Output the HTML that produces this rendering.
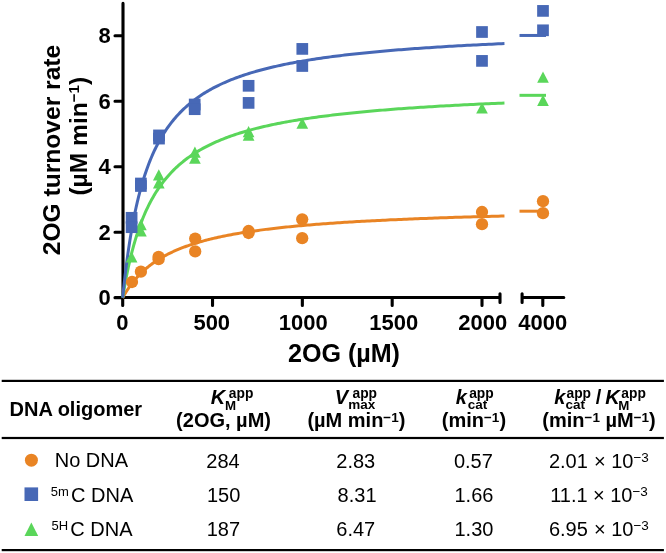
<!DOCTYPE html>
<html><head><meta charset="utf-8"><style>
html,body{margin:0;padding:0;background:#fff;width:666px;height:553px;overflow:hidden}
svg{display:block;will-change:transform}
</style></head><body>
<svg width="666" height="553" viewBox="0 0 666 553">
<path d="M123 3.4 V297.5 M115 297.5 H500 M500 293.8 V302.4 M522.1 293.8 V302.4 M522.1 297.5 H563.8 M115 297.70 H123 M115 232.22 H123 M115 166.74 H123 M115 101.26 H123 M115 35.78 H123 M122.70 297.5 V305.5 M212.53 297.5 V305.5 M302.35 297.5 V305.5 M392.18 297.5 V305.5 M482.00 297.5 V305.5 M542.8 297.5 V305.5" stroke="#000" stroke-width="3.1" stroke-linecap="round" fill="none"/>
<path d="M122.70 297.70 L122.71 297.69 L122.73 297.65 L122.76 297.59 L122.81 297.51 L122.87 297.40 L122.94 297.27 L123.02 297.11 L123.12 296.94 L123.24 296.74 L123.36 296.51 L123.50 296.27 L123.65 296.00 L123.82 295.71 L124.00 295.40 L124.19 295.07 L124.40 294.72 L124.62 294.35 L124.85 293.96 L125.09 293.55 L125.35 293.12 L125.62 292.68 L125.91 292.22 L126.21 291.74 L126.52 291.25 L126.84 290.74 L127.18 290.22 L127.53 289.68 L127.90 289.14 L128.27 288.57 L128.66 288.00 L129.07 287.42 L129.49 286.82 L129.92 286.22 L130.36 285.60 L130.82 284.98 L131.29 284.35 L131.77 283.71 L132.27 283.07 L132.78 282.41 L133.30 281.76 L133.84 281.09 L134.39 280.43 L134.95 279.76 L135.53 279.08 L136.12 278.40 L136.72 277.72 L137.34 277.04 L137.97 276.36 L138.61 275.67 L139.27 274.99 L139.94 274.30 L140.62 273.61 L141.32 272.93 L142.03 272.25 L142.75 271.56 L143.48 270.88 L144.23 270.20 L145.00 269.52 L145.77 268.85 L146.56 268.18 L147.36 267.51 L148.18 266.84 L149.01 266.18 L149.85 265.52 L150.70 264.87 L151.57 264.22 L152.45 263.57 L153.35 262.93 L154.25 262.29 L155.18 261.66 L156.11 261.04 L157.06 260.41 L158.02 259.80 L158.99 259.19 L159.98 258.58 L160.98 257.98 L162.00 257.39 L163.02 256.80 L164.06 256.22 L165.12 255.64 L166.18 255.07 L167.26 254.50 L168.36 253.94 L169.47 253.39 L170.59 252.84 L171.72 252.30 L172.87 251.76 L174.03 251.24 L175.20 250.71 L176.38 250.19 L177.58 249.68 L178.80 249.18 L180.02 248.68 L181.26 248.18 L182.52 247.70 L183.78 247.22 L185.06 246.74 L186.35 246.27 L187.66 245.81 L188.98 245.35 L190.31 244.89 L191.65 244.45 L193.01 244.01 L194.39 243.57 L195.77 243.14 L197.17 242.72 L198.58 242.30 L200.01 241.88 L201.44 241.48 L202.90 241.07 L204.36 240.67 L205.84 240.28 L207.33 239.89 L208.83 239.51 L210.35 239.14 L211.88 238.76 L213.43 238.40 L214.98 238.03 L216.56 237.68 L218.14 237.32 L219.74 236.97 L221.35 236.63 L222.97 236.29 L224.61 235.96 L226.26 235.63 L227.92 235.30 L229.60 234.98 L231.29 234.66 L232.99 234.35 L234.71 234.04 L236.44 233.74 L238.18 233.44 L239.94 233.14 L241.71 232.85 L243.49 232.56 L245.29 232.28 L247.10 231.99 L248.92 231.72 L250.75 231.44 L252.60 231.17 L254.47 230.91 L256.34 230.65 L258.23 230.39 L260.13 230.13 L262.05 229.88 L263.98 229.63 L265.92 229.38 L267.87 229.14 L269.84 228.90 L271.82 228.67 L273.82 228.43 L275.83 228.20 L277.85 227.97 L279.88 227.75 L281.93 227.53 L283.99 227.31 L286.07 227.10 L288.15 226.88 L290.26 226.67 L292.37 226.47 L294.50 226.26 L296.64 226.06 L298.79 225.86 L300.96 225.66 L303.14 225.47 L305.33 225.28 L307.54 225.09 L309.76 224.90 L311.99 224.72 L314.24 224.53 L316.50 224.35 L318.77 224.18 L321.06 224.00 L323.36 223.83 L325.67 223.66 L328.00 223.49 L330.34 223.32 L332.69 223.16 L335.06 222.99 L337.44 222.83 L339.83 222.67 L342.24 222.52 L344.66 222.36 L347.09 222.21 L349.53 222.06 L351.99 221.91 L354.46 221.76 L356.95 221.62 L359.45 221.47 L361.96 221.33 L364.49 221.19 L367.02 221.05 L369.58 220.91 L372.14 220.78 L374.72 220.65 L377.31 220.51 L379.91 220.38 L382.53 220.25 L385.16 220.13 L387.81 220.00 L390.47 219.87 L393.14 219.75 L395.82 219.63 L398.52 219.51 L401.23 219.39 L403.95 219.27 L406.69 219.16 L409.44 219.04 L412.21 218.93 L414.98 218.82 L417.77 218.70 L420.58 218.60 L423.39 218.49 L426.22 218.38 L429.07 218.27 L431.92 218.17 L434.79 218.06 L437.68 217.96 L440.57 217.86 L443.48 217.76 L446.40 217.66 L449.34 217.56 L452.29 217.47 L455.25 217.37 L458.23 217.28 L461.22 217.18 L464.22 217.09 L467.24 217.00 L470.26 216.91 L473.31 216.82 L476.36 216.73 L479.43 216.64 L482.51 216.55 L485.61 216.47 L488.72 216.38 L491.84 216.30 L494.97 216.21 L498.12 216.13 L501.28 216.05 L504.46 215.97" fill="none" stroke="#E98424" stroke-width="3"/>
<path d="M519.5 211.19 L546 211.19" fill="none" stroke="#E98424" stroke-width="3"/>
<path d="M122.70 297.70 L122.71 297.66 L122.73 297.53 L122.76 297.32 L122.81 297.03 L122.87 296.66 L122.94 296.21 L123.02 295.67 L123.12 295.06 L123.24 294.37 L123.36 293.60 L123.50 292.76 L123.65 291.85 L123.82 290.87 L124.00 289.81 L124.19 288.70 L124.40 287.52 L124.62 286.27 L124.85 284.97 L125.09 283.62 L125.35 282.21 L125.62 280.75 L125.91 279.24 L126.21 277.68 L126.52 276.08 L126.84 274.45 L127.18 272.77 L127.53 271.07 L127.90 269.33 L128.27 267.56 L128.66 265.76 L129.07 263.94 L129.49 262.10 L129.92 260.24 L130.36 258.36 L130.82 256.47 L131.29 254.57 L131.77 252.65 L132.27 250.73 L132.78 248.81 L133.30 246.88 L133.84 244.95 L134.39 243.01 L134.95 241.08 L135.53 239.15 L136.12 237.23 L136.72 235.31 L137.34 233.40 L137.97 231.50 L138.61 229.61 L139.27 227.73 L139.94 225.86 L140.62 224.01 L141.32 222.17 L142.03 220.34 L142.75 218.53 L143.48 216.74 L144.23 214.96 L145.00 213.20 L145.77 211.46 L146.56 209.73 L147.36 208.03 L148.18 206.34 L149.01 204.67 L149.85 203.03 L150.70 201.40 L151.57 199.80 L152.45 198.21 L153.35 196.65 L154.25 195.10 L155.18 193.58 L156.11 192.08 L157.06 190.60 L158.02 189.14 L158.99 187.70 L159.98 186.28 L160.98 184.88 L162.00 183.50 L163.02 182.15 L164.06 180.81 L165.12 179.49 L166.18 178.20 L167.26 176.92 L168.36 175.66 L169.47 174.43 L170.59 173.21 L171.72 172.01 L172.87 170.83 L174.03 169.67 L175.20 168.53 L176.38 167.41 L177.58 166.30 L178.80 165.21 L180.02 164.14 L181.26 163.09 L182.52 162.06 L183.78 161.04 L185.06 160.03 L186.35 159.05 L187.66 158.08 L188.98 157.13 L190.31 156.19 L191.65 155.27 L193.01 154.36 L194.39 153.47 L195.77 152.59 L197.17 151.72 L198.58 150.88 L200.01 150.04 L201.44 149.22 L202.90 148.41 L204.36 147.62 L205.84 146.83 L207.33 146.07 L208.83 145.31 L210.35 144.56 L211.88 143.83 L213.43 143.11 L214.98 142.40 L216.56 141.71 L218.14 141.02 L219.74 140.35 L221.35 139.68 L222.97 139.03 L224.61 138.39 L226.26 137.76 L227.92 137.14 L229.60 136.52 L231.29 135.92 L232.99 135.33 L234.71 134.75 L236.44 134.17 L238.18 133.61 L239.94 133.05 L241.71 132.51 L243.49 131.97 L245.29 131.44 L247.10 130.91 L248.92 130.40 L250.75 129.90 L252.60 129.40 L254.47 128.91 L256.34 128.42 L258.23 127.95 L260.13 127.48 L262.05 127.02 L263.98 126.57 L265.92 126.12 L267.87 125.68 L269.84 125.25 L271.82 124.82 L273.82 124.40 L275.83 123.98 L277.85 123.58 L279.88 123.17 L281.93 122.78 L283.99 122.39 L286.07 122.00 L288.15 121.62 L290.26 121.25 L292.37 120.88 L294.50 120.52 L296.64 120.16 L298.79 119.81 L300.96 119.46 L303.14 119.12 L305.33 118.78 L307.54 118.45 L309.76 118.12 L311.99 117.80 L314.24 117.48 L316.50 117.17 L318.77 116.86 L321.06 116.55 L323.36 116.25 L325.67 115.95 L328.00 115.66 L330.34 115.37 L332.69 115.09 L335.06 114.81 L337.44 114.53 L339.83 114.25 L342.24 113.99 L344.66 113.72 L347.09 113.46 L349.53 113.20 L351.99 112.94 L354.46 112.69 L356.95 112.44 L359.45 112.20 L361.96 111.95 L364.49 111.71 L367.02 111.48 L369.58 111.24 L372.14 111.01 L374.72 110.79 L377.31 110.56 L379.91 110.34 L382.53 110.12 L385.16 109.91 L387.81 109.70 L390.47 109.49 L393.14 109.28 L395.82 109.07 L398.52 108.87 L401.23 108.67 L403.95 108.47 L406.69 108.28 L409.44 108.09 L412.21 107.90 L414.98 107.71 L417.77 107.52 L420.58 107.34 L423.39 107.16 L426.22 106.98 L429.07 106.80 L431.92 106.63 L434.79 106.46 L437.68 106.29 L440.57 106.12 L443.48 105.95 L446.40 105.79 L449.34 105.63 L452.29 105.47 L455.25 105.31 L458.23 105.15 L461.22 105.00 L464.22 104.84 L467.24 104.69 L470.26 104.54 L473.31 104.39 L476.36 104.25 L479.43 104.10 L482.51 103.96 L485.61 103.82 L488.72 103.68 L491.84 103.54 L494.97 103.41 L498.12 103.27 L501.28 103.14 L504.46 103.01" fill="none" stroke="#5AD65A" stroke-width="3"/>
<path d="M519.5 95.33 L546 95.33" fill="none" stroke="#5AD65A" stroke-width="3"/>
<path d="M122.70 297.70 L122.71 297.63 L122.73 297.43 L122.76 297.10 L122.81 296.63 L122.87 296.04 L122.94 295.31 L123.02 294.46 L123.12 293.48 L123.24 292.39 L123.36 291.17 L123.50 289.84 L123.65 288.39 L123.82 286.84 L124.00 285.19 L124.19 283.43 L124.40 281.58 L124.62 279.64 L124.85 277.62 L125.09 275.51 L125.35 273.33 L125.62 271.08 L125.91 268.76 L126.21 266.38 L126.52 263.94 L126.84 261.45 L127.18 258.91 L127.53 256.34 L127.90 253.72 L128.27 251.07 L128.66 248.39 L129.07 245.69 L129.49 242.96 L129.92 240.22 L130.36 237.47 L130.82 234.71 L131.29 231.94 L131.77 229.17 L132.27 226.40 L132.78 223.63 L133.30 220.87 L133.84 218.12 L134.39 215.38 L134.95 212.65 L135.53 209.94 L136.12 207.25 L136.72 204.57 L137.34 201.92 L137.97 199.29 L138.61 196.69 L139.27 194.11 L139.94 191.56 L140.62 189.03 L141.32 186.54 L142.03 184.07 L142.75 181.63 L143.48 179.23 L144.23 176.86 L145.00 174.52 L145.77 172.21 L146.56 169.93 L147.36 167.69 L148.18 165.48 L149.01 163.31 L149.85 161.16 L150.70 159.05 L151.57 156.98 L152.45 154.94 L153.35 152.93 L154.25 150.95 L155.18 149.01 L156.11 147.10 L157.06 145.22 L158.02 143.38 L158.99 141.56 L159.98 139.78 L160.98 138.03 L162.00 136.31 L163.02 134.62 L164.06 132.96 L165.12 131.33 L166.18 129.73 L167.26 128.15 L168.36 126.61 L169.47 125.09 L170.59 123.60 L171.72 122.14 L172.87 120.71 L174.03 119.30 L175.20 117.91 L176.38 116.56 L177.58 115.22 L178.80 113.92 L180.02 112.63 L181.26 111.37 L182.52 110.13 L183.78 108.92 L185.06 107.72 L186.35 106.55 L187.66 105.40 L188.98 104.27 L190.31 103.17 L191.65 102.08 L193.01 101.01 L194.39 99.96 L195.77 98.93 L197.17 97.92 L198.58 96.93 L200.01 95.96 L201.44 95.00 L202.90 94.06 L204.36 93.14 L205.84 92.23 L207.33 91.34 L208.83 90.47 L210.35 89.61 L211.88 88.76 L213.43 87.93 L214.98 87.12 L216.56 86.32 L218.14 85.54 L219.74 84.76 L221.35 84.01 L222.97 83.26 L224.61 82.53 L226.26 81.81 L227.92 81.10 L229.60 80.41 L231.29 79.72 L232.99 79.05 L234.71 78.39 L236.44 77.74 L238.18 77.11 L239.94 76.48 L241.71 75.86 L243.49 75.26 L245.29 74.66 L247.10 74.07 L248.92 73.50 L250.75 72.93 L252.60 72.37 L254.47 71.82 L256.34 71.29 L258.23 70.75 L260.13 70.23 L262.05 69.72 L263.98 69.21 L265.92 68.72 L267.87 68.23 L269.84 67.74 L271.82 67.27 L273.82 66.80 L275.83 66.34 L277.85 65.89 L279.88 65.45 L281.93 65.01 L283.99 64.58 L286.07 64.15 L288.15 63.74 L290.26 63.32 L292.37 62.92 L294.50 62.52 L296.64 62.13 L298.79 61.74 L300.96 61.36 L303.14 60.98 L305.33 60.61 L307.54 60.25 L309.76 59.89 L311.99 59.54 L314.24 59.19 L316.50 58.84 L318.77 58.50 L321.06 58.17 L323.36 57.84 L325.67 57.52 L328.00 57.20 L330.34 56.88 L332.69 56.57 L335.06 56.27 L337.44 55.97 L339.83 55.67 L342.24 55.38 L344.66 55.09 L347.09 54.80 L349.53 54.52 L351.99 54.24 L354.46 53.97 L356.95 53.70 L359.45 53.43 L361.96 53.17 L364.49 52.91 L367.02 52.66 L369.58 52.41 L372.14 52.16 L374.72 51.91 L377.31 51.67 L379.91 51.43 L382.53 51.20 L385.16 50.96 L387.81 50.73 L390.47 50.51 L393.14 50.28 L395.82 50.06 L398.52 49.85 L401.23 49.63 L403.95 49.42 L406.69 49.21 L409.44 49.00 L412.21 48.80 L414.98 48.60 L417.77 48.40 L420.58 48.20 L423.39 48.01 L426.22 47.82 L429.07 47.63 L431.92 47.44 L434.79 47.26 L437.68 47.07 L440.57 46.89 L443.48 46.71 L446.40 46.54 L449.34 46.37 L452.29 46.19 L455.25 46.02 L458.23 45.86 L461.22 45.69 L464.22 45.53 L467.24 45.37 L470.26 45.21 L473.31 45.05 L476.36 44.89 L479.43 44.74 L482.51 44.59 L485.61 44.44 L488.72 44.29 L491.84 44.14 L494.97 44.00 L498.12 43.85 L501.28 43.71 L504.46 43.57" fill="none" stroke="#4768B6" stroke-width="3"/>
<path d="M519.5 35.46 L546 35.46" fill="none" stroke="#4768B6" stroke-width="3"/>
<circle cx="132.00" cy="282.00" r="6.15" fill="#E98424"/>
<circle cx="140.90" cy="271.70" r="6.15" fill="#E98424"/>
<circle cx="158.60" cy="256.90" r="6.15" fill="#E98424"/>
<circle cx="158.60" cy="259.20" r="6.15" fill="#E98424"/>
<circle cx="195.20" cy="238.60" r="6.15" fill="#E98424"/>
<circle cx="195.20" cy="251.40" r="6.15" fill="#E98424"/>
<circle cx="248.60" cy="231.00" r="6.15" fill="#E98424"/>
<circle cx="248.60" cy="233.00" r="6.15" fill="#E98424"/>
<circle cx="302.20" cy="219.30" r="6.15" fill="#E98424"/>
<circle cx="302.20" cy="238.20" r="6.15" fill="#E98424"/>
<circle cx="482.00" cy="212.00" r="6.15" fill="#E98424"/>
<circle cx="482.00" cy="224.20" r="6.15" fill="#E98424"/>
<circle cx="543.00" cy="201.20" r="6.15" fill="#E98424"/>
<circle cx="543.00" cy="213.20" r="6.15" fill="#E98424"/>
<path d="M131.60 251.30 L137.45 262.50 L125.75 262.50 Z" fill="#5AD65A"/>
<path d="M140.90 219.00 L146.75 230.20 L135.05 230.20 Z" fill="#5AD65A"/>
<path d="M140.90 225.20 L146.75 236.40 L135.05 236.40 Z" fill="#5AD65A"/>
<path d="M158.80 169.20 L164.65 180.40 L152.95 180.40 Z" fill="#5AD65A"/>
<path d="M158.80 177.20 L164.65 188.40 L152.95 188.40 Z" fill="#5AD65A"/>
<path d="M194.90 146.50 L200.75 157.70 L189.05 157.70 Z" fill="#5AD65A"/>
<path d="M194.90 152.50 L200.75 163.70 L189.05 163.70 Z" fill="#5AD65A"/>
<path d="M248.60 126.00 L254.45 137.20 L242.75 137.20 Z" fill="#5AD65A"/>
<path d="M248.60 129.60 L254.45 140.80 L242.75 140.80 Z" fill="#5AD65A"/>
<path d="M302.30 117.50 L308.15 128.70 L296.45 128.70 Z" fill="#5AD65A"/>
<path d="M482.00 102.40 L487.85 113.60 L476.15 113.60 Z" fill="#5AD65A"/>
<path d="M543.00 71.60 L548.85 82.80 L537.15 82.80 Z" fill="#5AD65A"/>
<path d="M543.00 94.80 L548.85 106.00 L537.15 106.00 Z" fill="#5AD65A"/>
<rect x="125.75" y="211.95" width="11.70" height="11.70" fill="#4768B6"/>
<rect x="125.75" y="221.35" width="11.70" height="11.70" fill="#4768B6"/>
<rect x="135.05" y="177.65" width="11.70" height="11.70" fill="#4768B6"/>
<rect x="135.05" y="180.15" width="11.70" height="11.70" fill="#4768B6"/>
<rect x="153.15" y="129.55" width="11.70" height="11.70" fill="#4768B6"/>
<rect x="153.15" y="132.75" width="11.70" height="11.70" fill="#4768B6"/>
<rect x="188.85" y="98.65" width="11.70" height="11.70" fill="#4768B6"/>
<rect x="188.85" y="103.35" width="11.70" height="11.70" fill="#4768B6"/>
<rect x="242.75" y="79.95" width="11.70" height="11.70" fill="#4768B6"/>
<rect x="242.75" y="97.05" width="11.70" height="11.70" fill="#4768B6"/>
<rect x="296.45" y="43.05" width="11.70" height="11.70" fill="#4768B6"/>
<rect x="296.45" y="60.15" width="11.70" height="11.70" fill="#4768B6"/>
<rect x="476.15" y="26.15" width="11.70" height="11.70" fill="#4768B6"/>
<rect x="476.15" y="55.05" width="11.70" height="11.70" fill="#4768B6"/>
<rect x="537.15" y="5.05" width="11.70" height="11.70" fill="#4768B6"/>
<rect x="537.15" y="24.45" width="11.70" height="11.70" fill="#4768B6"/>
<rect x="1.7" y="379.8" width="662.2" height="2.2" fill="#000"/>
<rect x="1.7" y="436.9" width="662.2" height="2.2" fill="#000"/>
<rect x="1.7" y="549" width="662.2" height="2.2" fill="#000"/>
<circle cx="31.4" cy="460.2" r="6.5" fill="#E98424"/>
<rect x="24.5" y="487.4" width="13.6" height="13.6" fill="#4768B6"/>
<path d="M31.35 522.4 L38.2 536.1 L24.5 536.1 Z" fill="#5AD65A"/>
<text transform="translate(98.50 305.20) scale(1 1.030)" font-family="Liberation Sans" font-weight="bold" font-size="22">0</text>
<text transform="translate(98.50 239.72) scale(1 1.030)" font-family="Liberation Sans" font-weight="bold" font-size="22">2</text>
<text transform="translate(98.50 174.24) scale(1 1.030)" font-family="Liberation Sans" font-weight="bold" font-size="22">4</text>
<text transform="translate(98.50 108.76) scale(1 1.030)" font-family="Liberation Sans" font-weight="bold" font-size="22">6</text>
<text transform="translate(98.50 43.28) scale(1 1.030)" font-family="Liberation Sans" font-weight="bold" font-size="22">8</text>
<text transform="translate(116.30 329.70) scale(1 1.030)" font-family="Liberation Sans" font-weight="bold" font-size="22">0</text>
<text transform="translate(193.40 329.70) scale(1 1.030)" font-family="Liberation Sans" font-weight="bold" font-size="22">500</text>
<text transform="translate(278.85 329.70) scale(1 1.030)" font-family="Liberation Sans" font-weight="bold" font-size="22">1000</text>
<text transform="translate(369.20 329.70) scale(1 1.030)" font-family="Liberation Sans" font-weight="bold" font-size="22">1500</text>
<text transform="translate(458.30 329.70) scale(1 1.030)" font-family="Liberation Sans" font-weight="bold" font-size="22">2000</text>
<text transform="translate(518.35 329.70) scale(1 1.030)" font-family="Liberation Sans" font-weight="bold" font-size="22">4000</text>
<text x="287.95" y="362.20" font-family="Liberation Sans" font-weight="bold" font-size="25.1">2OG (µM)</text>
<text x="9.50" y="416.00" font-family="Liberation Sans" font-weight="bold" font-size="20">DNA oligomer</text>
<text x="210.80" y="403.90" font-family="Liberation Sans" font-weight="bold" font-style="italic" font-size="20">K</text>
<text x="228.80" y="397.80" font-family="Liberation Sans" font-weight="bold" font-size="13.8">app</text>
<text x="225.10" y="410.00" font-family="Liberation Sans" font-weight="bold" font-size="13.3">M</text>
<text x="176.10" y="427.30" font-family="Liberation Sans" font-weight="bold" font-size="20">(2OG, µM)</text>
<text x="334.70" y="404.10" font-family="Liberation Sans" font-weight="bold" font-style="italic" font-size="20">V</text>
<text x="352.50" y="397.60" font-family="Liberation Sans" font-weight="bold" font-size="13.8">app</text>
<text x="348.20" y="409.40" font-family="Liberation Sans" font-weight="bold" font-size="13.5">max</text>
<text x="307.40" y="427.00" font-family="Liberation Sans" font-weight="bold" font-size="20">(µM min<tspan font-size="13.5" dy="-5">−1</tspan><tspan dy="5">)</tspan></text>
<text x="455.70" y="403.90" font-family="Liberation Sans" font-weight="bold" font-style="italic" font-size="20">k</text>
<text x="469.20" y="397.60" font-family="Liberation Sans" font-weight="bold" font-size="13.8">app</text>
<text x="467.80" y="408.90" font-family="Liberation Sans" font-weight="bold" font-size="13.5">cat</text>
<text x="441.75" y="427.30" font-family="Liberation Sans" font-weight="bold" font-size="20">(min<tspan font-size="13.5" dy="-5">−1</tspan><tspan dy="5">)</tspan></text>
<text x="554.20" y="403.80" font-family="Liberation Sans" font-weight="bold" font-style="italic" font-size="20">k</text>
<text x="566.50" y="397.60" font-family="Liberation Sans" font-weight="bold" font-size="13.8">app</text>
<text x="565.50" y="408.50" font-family="Liberation Sans" font-weight="bold" font-size="13.5">cat</text>
<text x="595.80" y="403.80" font-family="Liberation Sans" font-weight="bold" font-size="20">/</text>
<text x="605.30" y="403.80" font-family="Liberation Sans" font-weight="bold" font-style="italic" font-size="20">K</text>
<text x="621.30" y="397.60" font-family="Liberation Sans" font-weight="bold" font-size="13.8">app</text>
<text x="618.30" y="409.70" font-family="Liberation Sans" font-weight="bold" font-size="13.3">M</text>
<text x="542.30" y="427.00" font-family="Liberation Sans" font-weight="bold" font-size="20">(min<tspan font-size="13.5" dy="-5">−1</tspan><tspan dy="5"> µM</tspan><tspan font-size="13.5" dy="-5">−1</tspan><tspan dy="5">)</tspan></text>
<text x="206.30" y="467.50" font-family="Liberation Sans" font-size="20">284</text>
<text x="336.30" y="467.50" font-family="Liberation Sans" font-size="20">2.83</text>
<text x="453.90" y="467.50" font-family="Liberation Sans" font-size="20">0.57</text>
<text x="548.90" y="467.50" font-family="Liberation Sans" font-size="20">2.01</text>
<text x="594.00" y="467.50" font-family="Liberation Sans" font-size="20">× 10<tspan font-size="13.5" dy="-6">−3</tspan></text>
<text x="207.00" y="501.60" font-family="Liberation Sans" font-size="20">150</text>
<text x="337.60" y="501.60" font-family="Liberation Sans" font-size="20">8.31</text>
<text x="454.50" y="501.60" font-family="Liberation Sans" font-size="20">1.66</text>
<text x="550.20" y="501.60" font-family="Liberation Sans" font-size="20">11.1</text>
<text x="593.00" y="501.60" font-family="Liberation Sans" font-size="20">× 10<tspan font-size="13.5" dy="-6">−3</tspan></text>
<text x="206.70" y="535.50" font-family="Liberation Sans" font-size="20">187</text>
<text x="336.30" y="535.50" font-family="Liberation Sans" font-size="20">6.47</text>
<text x="454.50" y="535.50" font-family="Liberation Sans" font-size="20">1.30</text>
<text x="548.90" y="535.50" font-family="Liberation Sans" font-size="20">6.95</text>
<text x="594.00" y="535.50" font-family="Liberation Sans" font-size="20">× 10<tspan font-size="13.5" dy="-6">−3</tspan></text>
<text x="54.70" y="467.30" font-family="Liberation Sans" font-size="20">No DNA</text>
<text x="50.80" y="495.80" font-family="Liberation Sans" font-size="13">5m</text>
<text x="71.00" y="501.60" font-family="Liberation Sans" font-size="20">C DNA</text>
<text x="51.50" y="530.00" font-family="Liberation Sans" font-size="13">5H</text>
<text x="70.30" y="535.60" font-family="Liberation Sans" font-size="20">C DNA</text>
<text transform="translate(59.70 255.25) rotate(-90)" font-family="Liberation Sans" font-weight="bold" font-size="24.6">2OG turnover rate</text>
<text transform="translate(87.00 195.60) rotate(-90)" font-family="Liberation Sans" font-weight="bold" font-size="24.6">(µM min<tspan font-size="15" dy="-8">−1</tspan><tspan dy="8">)</tspan></text>
</svg>
</body></html>
